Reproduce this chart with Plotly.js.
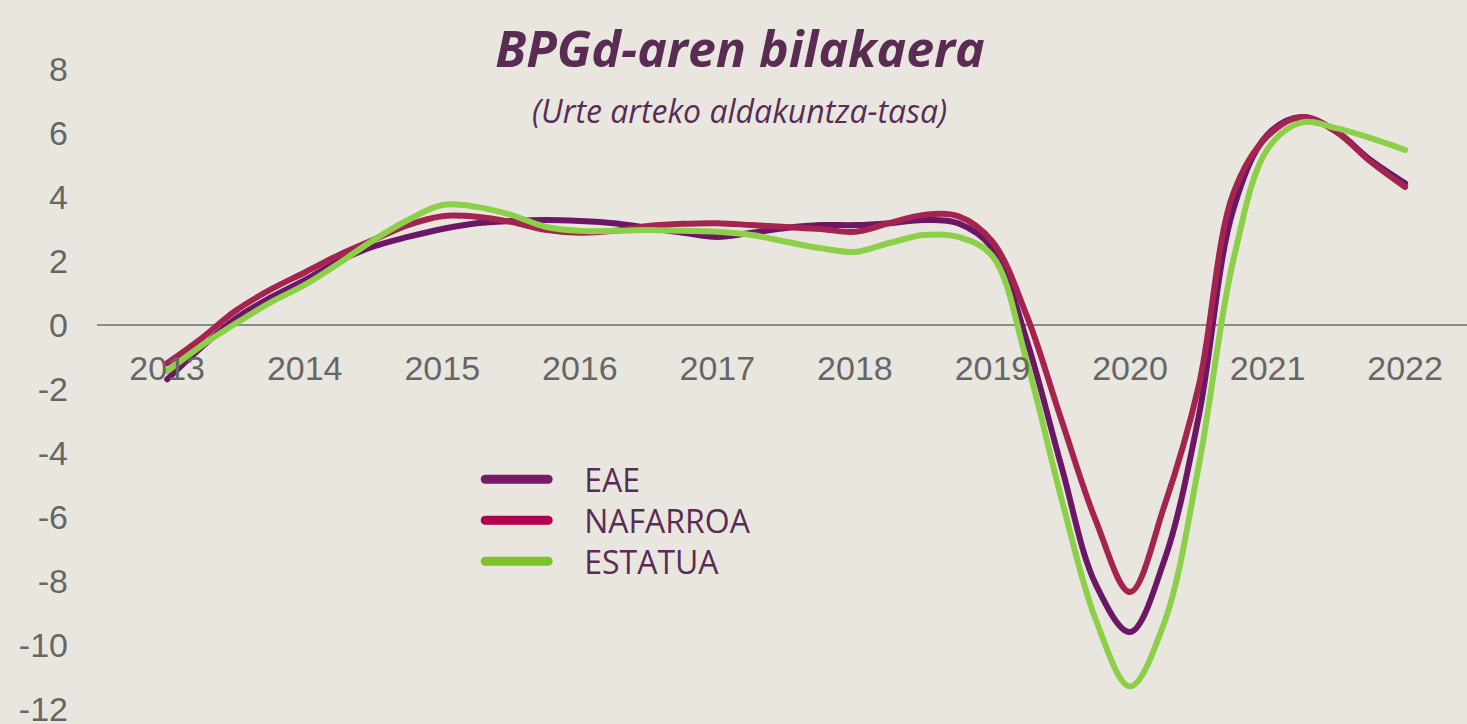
<!DOCTYPE html>
<html>
<head>
<meta charset="utf-8">
<script src="https://cdn.plot.ly/plotly-3.0.1.min.js"></script>
<style>
html,body{margin:0;padding:0;background:#e9e6e0;}
#chart{width:1467px;height:724px;}
</style>
</head>
<body>
<div id="chart"></div>
<script>
// Quarterly positions (year fractions)
const periods = [2013.00,2013.25,2013.50,2013.75,2014.00,2014.25,2014.50,2014.75,
  2015.00,2015.25,2015.50,2015.75,2016.00,2016.25,2016.50,2016.75,
  2017.00,2017.25,2017.50,2017.75,2018.00,2018.25,2018.50,2018.75,
  2019.00,2019.25,2019.50,2019.75,2020.00,2020.25,2020.50,2020.75,
  2021.00,2021.25,2021.50,2021.75,2022.00];

const eae = [-1.70,-0.70,0.20,0.85,1.40,2.00,2.45,2.75,
  3.00,3.18,3.25,3.28,3.25,3.18,3.03,2.88,
  2.75,2.88,3.03,3.12,3.12,3.18,3.28,3.18,
  2.40,-0.50,-4.40,-8.10,-9.60,-7.35,-2.85,3.60,
  5.95,6.50,6.05,5.15,4.43];

const nafarroa = [-1.20,-0.42,0.45,1.10,1.64,2.19,2.66,3.12,
  3.40,3.38,3.22,2.97,2.88,2.94,3.09,3.16,
  3.18,3.12,3.06,3.00,2.91,3.18,3.44,3.40,
  2.60,0.28,-2.95,-6.10,-8.35,-5.65,-1.90,4.10,
  5.90,6.50,6.03,5.10,4.31];

const estatua = [-1.45,-0.65,0.05,0.70,1.25,1.93,2.65,3.28,
  3.75,3.69,3.44,3.07,2.94,2.94,2.97,2.94,
  2.91,2.81,2.60,2.40,2.28,2.56,2.81,2.75,
  2.15,-1.15,-5.40,-9.20,-11.30,-9.30,-4.40,2.00,
  5.50,6.33,6.15,5.84,5.47];

const yearTicks = [2013,2014,2015,2016,2017,2018,2019,2020,2021,2022];
const yearLabels = ['2013','2014','2015','2016','2017','2018','2019','2020','2021','2022'];
const yTicks = [8,6,4,2,0,-2,-4,-6,-8,-10,-12];

const seriesNames = ['EAE','NAFARROA','ESTATUA'];
const lineColors = ['#6c1766','#a5244f','#8ccf48'];
const legendColors = ['#781a68','#b0004e','#7cc42a'];
const seriesValues = [eae, nafarroa, estatua];

const traces = seriesNames.map((n,i)=>({
  type:'scatter', mode:'lines', name:n,
  x: periods, y: seriesValues[i],
  line:{color: lineColors[i], width:6, shape:'spline', smoothing:1},
  hoverinfo:'x+y+name'
}));

const axisFont = {family:'"Liberation Sans", Arial, sans-serif', size:34, color:'#666666'};
const textColor = '#5a2c53';

const layout = {
  width:1467, height:724,
  margin:{l:97, r:0, t:69, b:12, pad:0},
  paper_bgcolor:'#e9e6e0', plot_bgcolor:'#e9e6e0',
  showlegend:true,
  title:{
    text:'<b><i>BPGd-aren bilakaera</i></b>',
    font:{family:'"Open Sans", sans-serif', size:50, color:textColor},
    x:0.5045, xref:'container', xanchor:'center',
    y:0.932, yref:'container', yanchor:'middle'
  },
  annotations:[{
    text:'<i>(Urte arteko aldakuntza-tasa)</i>',
    xref:'paper', yref:'paper', x:0.4693, y:0.935,
    xanchor:'center', yanchor:'middle', showarrow:false,
    font:{family:'"Open Sans", sans-serif', size:32, color:textColor}
  }],
  xaxis:{
    range:[2012.49, 2022.45],
    tickvals: yearTicks, ticktext: yearLabels,
    showgrid:false, zeroline:false, showline:false,
    ticks:'', anchor:'free', position:0.6019,
    ticklabelstandoff:20, ticklabeloverflow:'allow',
    tickfont: axisFont, fixedrange:true
  },
  yaxis:{
    range:[-12.1, 8],
    tickvals: yTicks, ticktext: yTicks.map(String),
    showgrid:false, showline:false,
    zeroline:true, zerolinecolor:'#8a8a8a', zerolinewidth:2,
    ticks:'', ticklabelstandoff:28, ticklabeloverflow:'allow',
    tickfont: axisFont, fixedrange:true
  },
  legend:{
    x:0.2797, y:0.4044, xanchor:'left', yanchor:'top',
    bgcolor:'rgba(0,0,0,0)', borderwidth:0,
    itemwidth:94,
    font:{family:'"Open Sans", sans-serif', size:32, color:textColor}
  }
};

Plotly.newPlot('chart', traces, layout, {displayModeBar:false, staticPlot:true}).then(gd=>{
  gd.querySelectorAll('.scatterlayer .js-line').forEach(p=>{
    p.style.strokeLinecap='round';
  });
  const items = gd.querySelectorAll('.legend .traces');
  let x0 = 0, y0 = null;
  items.forEach((g,i)=>{
    const m = /translate\(([-\d.]+)[ ,]+([-\d.]+)\)/.exec(g.getAttribute('transform')||'');
    if (m) {
      if (y0 === null) { x0 = parseFloat(m[1]); y0 = parseFloat(m[2]); }
      g.setAttribute('transform', 'translate(' + x0 + ',' + (y0 + i*41) + ')');
    }
    g.querySelectorAll('.legendlines path').forEach(p=>{
      p.setAttribute('d','M5,0h63');
      p.style.strokeLinecap='round';
      p.style.strokeWidth='9px';
      p.style.stroke = legendColors[i];
    });
  });
});
</script>
</body>
</html>
